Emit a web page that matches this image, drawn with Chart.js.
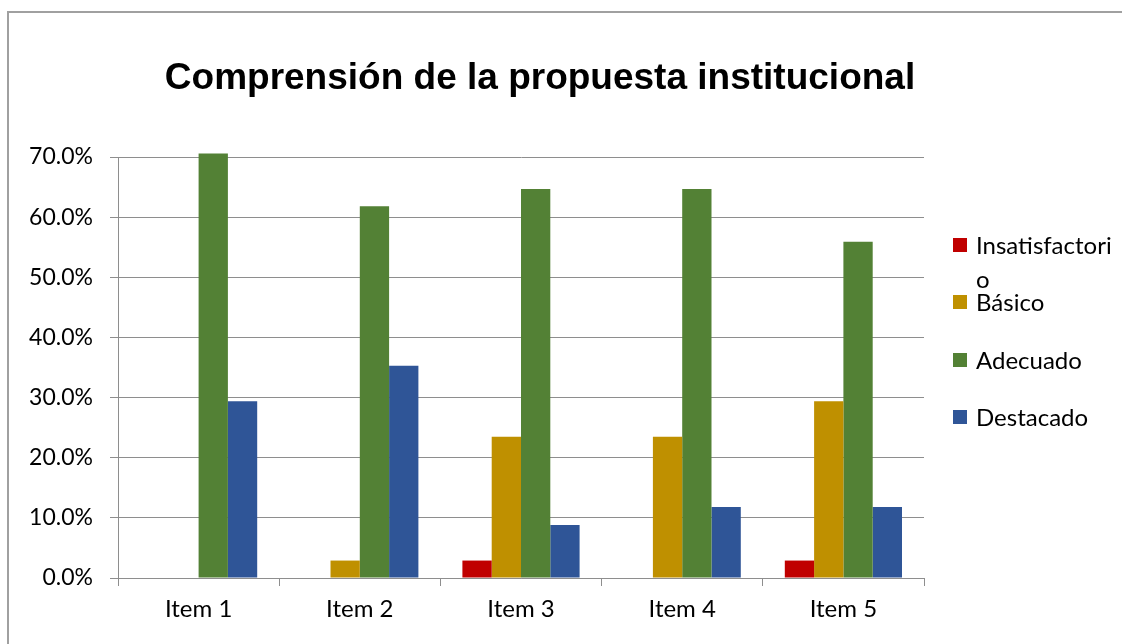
<!DOCTYPE html>
<html>
<head>
<meta charset="utf-8">
<script src="https://cdn.jsdelivr.net/npm/chart.js@4"></script>
<style>
  body { margin: 0; background: #fff; }
  canvas { display: block; }
</style>
</head>
<body>
<canvas id="barChart" width="1122" height="644"></canvas>
<script>
const categories = ['Item 1', 'Item 2', 'Item 3', 'Item 4', 'Item 5'];
const seriesNames = [['Insatisfactori', 'o'], ['Básico'], ['Adecuado'], ['Destacado']];
const insatisfactorio = [0, 0, 2.9, 0, 2.9];
const basico = [0, 2.9, 23.5, 23.5, 29.4];
const adecuado = [70.6, 61.8, 64.7, 64.7, 55.9];
const destacado = [29.4, 35.3, 8.8, 11.8, 11.8];
const seriesColors = ['#C00000', '#BF9000', '#538135', '#2F5597'];

const gridColor = '#8e8e8e';

// frame, title and legend are drawn by hand like the original sheet
const decorations = {
  id: 'decorations',
  beforeDraw(chart) {
    const ctx = chart.ctx;
    ctx.save();
    ctx.fillStyle = '#fff';
    ctx.fillRect(0, 0, chart.width, chart.height);
    ctx.strokeStyle = '#a0a0a0';
    ctx.lineWidth = 2;
    ctx.beginPath();
    ctx.moveTo(8, chart.height);
    ctx.lineTo(8, 12);
    ctx.lineTo(chart.width, 12);
    ctx.stroke();
    ctx.restore();
  },
  afterDraw(chart) {
    const ctx = chart.ctx;
    ctx.save();
    ctx.fillStyle = '#000';
    ctx.font = 'bold 37px "Liberation Sans"';
    ctx.textAlign = 'center';
    ctx.textBaseline = 'middle';
    ctx.fillText('Comprensión de la propuesta institucional', 540, 79);

    const rows = [245, 302, 360, 417];
    ctx.font = '24px Lato';
    ctx.textAlign = 'left';
    chart.data.datasets.forEach((ds, i) => {
      const y = rows[i];
      ctx.fillStyle = ds.backgroundColor;
      ctx.fillRect(953, y - 7, 14, 14);
      ctx.fillStyle = '#000';
      seriesNames[i].forEach((line, j) => {
        ctx.fillText(line, 976, y + 1 + j * 34);
      });
    });
    ctx.restore();
  }
};

const ctx = document.getElementById('barChart').getContext('2d');
const myChart = new Chart(ctx, {
  type: 'bar',
  data: {
    labels: categories,
    datasets: [
      { label: 'Insatisfactorio', data: insatisfactorio, backgroundColor: seriesColors[0] },
      { label: 'Básico', data: basico, backgroundColor: seriesColors[1] },
      { label: 'Adecuado', data: adecuado, backgroundColor: seriesColors[2] },
      { label: 'Destacado', data: destacado, backgroundColor: seriesColors[3] },
    ],
  },
  options: {
    responsive: false,
    animation: false,
    clip: false,
    categoryPercentage: 0.727,
    barPercentage: 1,
    layout: {
      padding: { left: 0, top: 157, right: 198, bottom: 0 },
    },
    plugins: {
      legend: { display: false },
      title: { display: false },
      tooltip: { enabled: false },
    },
    scales: {
      x: {
        afterFit(scale) { scale.height = 66; },
        grid: {
          drawOnChartArea: false,
          drawTicks: true,
          tickLength: 8,
          color: gridColor,
        },
        border: { color: gridColor, width: 1 },
        ticks: { color: '#000', font: { family: 'Lato', size: 24 }, padding: 9 },
      },
      y: {
        min: 0,
        max: 70,
        afterFit(scale) { scale.width = 118; },
        grid: { color: gridColor, tickLength: 8 },
        border: { color: gridColor, width: 1 },
        ticks: {
          stepSize: 10,
          color: '#000',
          font: { family: 'Lato', size: 23 },
          padding: 17,
          callback: (v) => v.toFixed(1) + '%',
        },
      },
    },
  },
  plugins: [decorations],
});
</script>
</body>
</html>
